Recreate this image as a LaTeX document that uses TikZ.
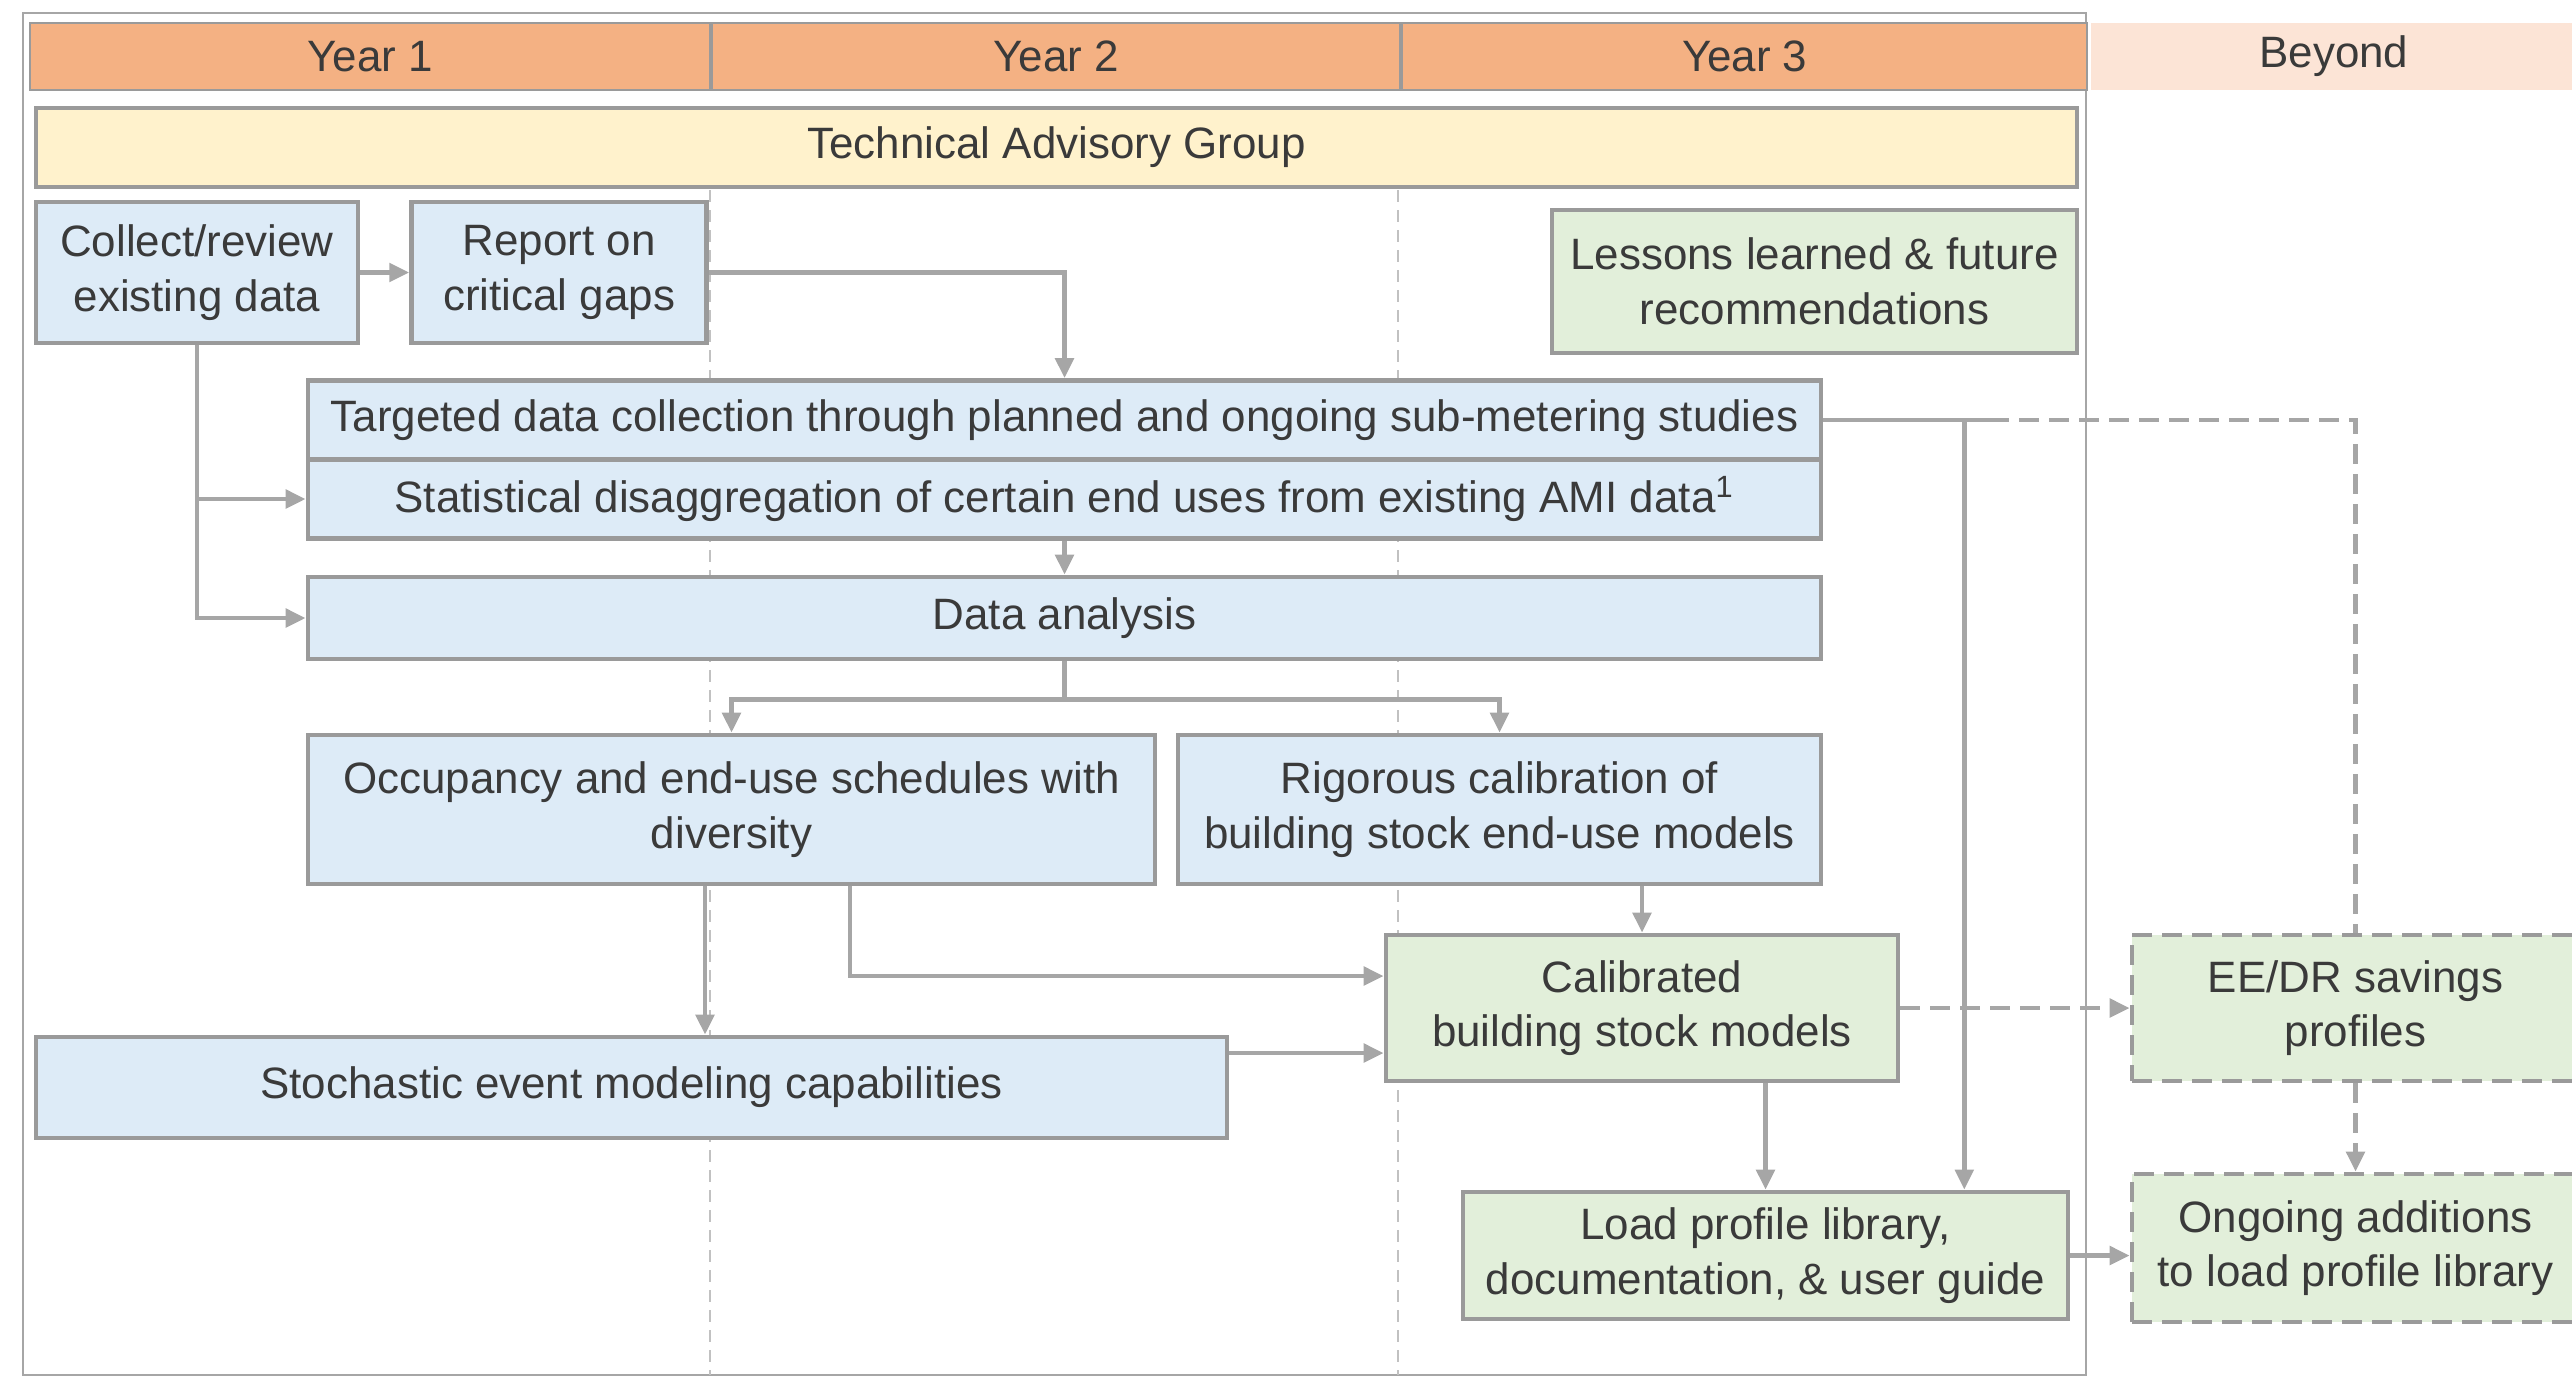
\documentclass[tikz,border=0pt]{standalone}
\usepackage{fontspec}
\setmainfont{Liberation Sans}
\usepackage{xcolor}
\usetikzlibrary{arrows.meta, positioning, calc}

\definecolor{hdrorange}{HTML}{F4B183}
\definecolor{hdrpeach}{HTML}{FCE4D6}
\definecolor{tagyellow}{HTML}{FFF2CC}
\definecolor{taskblue}{HTML}{DDEBF7}
\definecolor{taskgreen}{HTML}{E2EFDA}
\definecolor{linegray}{HTML}{A6A6A6}
\definecolor{edgegray}{HTML}{9A9A9A}
\definecolor{txtgray}{HTML}{3A3A3A}

\begin{document}
\begin{tikzpicture}[
  font=\fontsize{12.5}{15.5}\selectfont,
  text=txtgray,
  hdr/.style={rectangle, fill=hdrorange, draw=edgegray, line width=0.6pt, minimum height=0.67cm, inner sep=0pt},
  task/.style={rectangle, draw=edgegray, line width=1.3pt, align=center, inner sep=2pt},
  bluebox/.style={fill=taskblue},
  greenbox/.style={fill=taskgreen},
  future/.style={fill=taskgreen, dash pattern=on 2mm off 1mm},
  arrow/.style={-{Triangle[length=2mm, width=1.8mm]}, linegray, line width=1.4pt},
  link/.style={linegray, line width=1.4pt},
  dasharrow/.style={arrow, dash pattern=on 2mm off 1mm},
]
\useasboundingbox (0,0) rectangle (25.72,-13.76);

% frame and column guides
\draw[linegray, line width=0.8pt] (0.23,-0.13) rectangle (20.86,-13.75);
\foreach \x in {7.10, 13.98}
  \draw[linegray!70, line width=0.6pt, dash pattern=on 1.2mm off 0.8mm] (\x,-1.9) -- (\x,-13.75);

% header
\node[hdr, minimum width=6.80cm] (y1) at (3.70,-0.565) {Year 1};
\node[hdr, minimum width=6.88cm, right=0pt of y1] (y2) {Year 2};
\node[hdr, minimum width=6.85cm, right=0pt of y2] (y3) {Year 3};
\node[hdr, fill=hdrpeach, draw=none, minimum width=4.85cm, right=0.02cm of y3] (beyond) {Beyond};

\node[task, fill=tagyellow, minimum width=20.41cm, minimum height=0.79cm] (tag) at (10.565,-1.475) {Technical Advisory Group};

% tasks
\node[task, bluebox, minimum width=3.22cm, minimum height=1.41cm] (collect) at (1.97,-2.725) {Collect/review\\existing data};
\node[task, bluebox, minimum width=2.95cm, minimum height=1.41cm, right=0.49cm of collect] (report) {Report on\\critical gaps};
\node[task, greenbox, minimum width=5.25cm, minimum height=1.43cm] (lessons) at (18.145,-2.815) {Lessons learned \& future\\recommendations};

\node[task, bluebox, minimum width=15.13cm, minimum height=0.79cm] (target) at (10.645,-4.20) {Targeted data collection through planned and ongoing sub-metering studies};
\node[task, bluebox, minimum width=15.13cm, minimum height=0.79cm, below=-1.3pt of target] (stat) {Statistical disaggregation of certain end uses from existing AMI data\textsuperscript{1}};
\node[task, bluebox, minimum width=15.13cm, minimum height=0.82cm] (analysis) at (10.645,-6.18) {Data analysis};

\node[task, bluebox, minimum width=8.47cm, minimum height=1.49cm] (occ) at (7.315,-8.095) {Occupancy and end-use schedules with\\diversity};
\node[task, bluebox, minimum width=6.43cm, minimum height=1.49cm] (rigor) at (14.995,-8.095) {Rigorous calibration of\\building stock end-use models};

\node[task, greenbox, minimum width=5.12cm, minimum height=1.46cm] (calib) at (16.42,-10.08) {Calibrated\\building stock models};
\node[task, bluebox, minimum width=11.91cm, minimum height=1.01cm] (stoch) at (6.315,-10.875) {Stochastic event modeling capabilities};
\node[task, greenbox, minimum width=6.05cm, minimum height=1.27cm] (library) at (17.655,-12.555) {Load profile library,\\documentation, \& user guide};

% beyond
\node[task, future, minimum width=4.47cm, minimum height=1.46cm] (savings) at (23.555,-10.08) {EE/DR savings\\profiles};
\node[task, future, minimum width=4.47cm, minimum height=1.48cm] (ongoing) at (23.555,-12.48) {Ongoing additions\\to load profile library};

% connectors
\draw[arrow] (collect) -- (report);
\draw[arrow] (report.east) -| (target.north);
\draw[arrow] (collect.south) |- (stat.west);
\draw[arrow] (collect.south) |- (analysis.west);
\draw[arrow] (stat) -- (analysis);
\coordinate (split) at ($(analysis.south)+(0,-0.38)$);
\draw[link] (analysis.south) -- (split);
\draw[arrow] (split) -| (occ.north);
\draw[arrow] (split) -| (rigor.north);
\draw[arrow] (rigor.south -| calib.north) -- (calib.north);
\draw[arrow] ([xshift=-0.265cm]occ.south) -- ([xshift=-0.265cm]occ.south |- stoch.north);
\draw[arrow] ([xshift=1.185cm]occ.south) |- ([yshift=0.32cm]calib.west);
\draw[arrow] ([yshift=-0.45cm]calib.west -| stoch.east) -- ([yshift=-0.45cm]calib.west);
\draw[arrow] (calib.south -| library.north) -- (library.north);
\coordinate (tap) at ($(target.east)+(1.41,0)$);
\draw[link] (target.east) -- ($(tap)+(0.25,0)$);
\draw[arrow] (tap) -- (tap |- library.north);
\draw[link, dash pattern=on 2mm off 1mm] ($(tap)+(0.25,0)$) -| (savings.north);
\draw[dasharrow] (calib) -- (savings);
\draw[dasharrow] (savings) -- (ongoing);
\draw[arrow] (library.east) -- (library.east -| ongoing.west);

\end{tikzpicture}
\end{document}
